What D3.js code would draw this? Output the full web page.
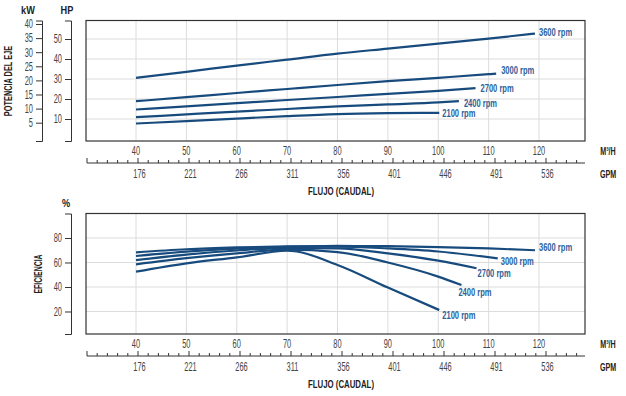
<!DOCTYPE html>
<html>
<head>
<meta charset="utf-8">
<script src="https://cdn.jsdelivr.net/npm/d3@7"></script>
<style>
    body { margin: 0; background: #fff; }
    svg text { font-family: "Liberation Sans", Arial, sans-serif; }
    .tick-label { fill: #444; font-size: 12px; }
    .title { font-weight: bold; fill: #222; font-size: 11.5px; }
    .rpm { font-weight: bold; fill: #2d5f9a; font-size: 10.5px; }
    .grid { stroke: #dcdcdc; stroke-width: 1; }
    .frame { fill: none; stroke: #333; stroke-width: 1.2; }
    .curve { fill: none; stroke: #184b7d; stroke-width: 2.2; }
</style>
</head>
<body>
<svg id="chart" width="626" height="396"></svg>
<script>
const flow_ticks = [40, 50, 60, 70, 80, 90, 100, 110, 120];
const gpm_ticks = [176, 221, 266, 311, 356, 401, 446, 491, 536];
const kw_ticks = [5, 10, 15, 20, 25, 30, 35, 40];
const hp_ticks = [10, 20, 30, 40, 50];
const eff_ticks = [20, 40, 60, 80];
const rpm_labels = ["3600 rpm", "3000 rpm", "2700 rpm", "2400 rpm", "2100 rpm"];

// shaft power, [m3/h, HP]
const power_3600 = [[40, 30.6], [50, 33.6], [60, 36.7], [70, 39.7], [80, 42.7], [90, 45.2], [100, 47.7], [110, 50.2], [119.2, 52.7]];
const power_3000 = [[40, 18.9], [50, 20.9], [60, 23], [70, 25], [80, 27], [90, 28.9], [100, 30.6], [110, 32.4], [111.5, 32.7]];
const power_2700 = [[40, 14.75], [50, 16.3], [60, 17.9], [70, 19.5], [80, 21], [90, 22.6], [100, 24.1], [107.4, 25.4]];
const power_2400 = [[40, 10.9], [50, 12.3], [60, 13.7], [70, 15], [80, 16.3], [90, 17.3], [100, 18.3], [104.1, 18.9]];
const power_2100 = [[40, 7.75], [50, 8.95], [60, 10.2], [70, 11.4], [80, 12.4], [90, 12.9], [100.2, 13.1]];

// efficiency, [m3/h, %]
const eff_3600 = [[40, 68.3], [50, 70.8], [60, 72.3], [70, 73.2], [80, 73.5], [90, 73.3], [100, 72.6], [110, 71.5], [119.2, 70]];
const eff_3000 = [[40, 65.3], [50, 68.8], [60, 71.3], [70, 72.7], [80, 73], [90, 71.5], [100, 69], [111.8, 63.4]];
const eff_2700 = [[40, 62], [50, 66.5], [60, 69.8], [70, 71.8], [80, 71.5], [90, 67.5], [100, 61.5], [107.6, 55.3]];
const eff_2400 = [[40, 58.5], [50, 63.5], [60, 67.5], [70, 70.5], [80, 68.5], [90, 60], [100, 48.5], [104.6, 41.6]];
const eff_2100 = [[40, 52.5], [50, 59.3], [60, 64.2], [70, 69.6], [80, 58], [90, 39.5], [100.2, 21.2]];

let svg = d3.select("#chart");
let frame = { left: 86, right: 585 };
let narrow = 0.62; // squeeze the sans font to look like the condensed original

let x = d3.scaleLinear().domain([40, 120]).range([136, 539]);
let gpm = d3.scaleLinear().domain([176, 536]).range([137.5, 545.5]);
let kw = d3.scaleLinear().domain([-1.49, 41.24]).range([141, 20.5]);
let hp = d3.scaleLinear().domain([-1, 59.25]).range([141, 20.5]);
let eff = d3.scaleLinear().domain([1.63, 100]).range([334, 213.5]);

function add_text(px, py, txt, cls, anchor, rotate, sx) {
    svg.append("text")
        .attr("class", cls)
        .attr("transform", `translate(${px},${py}) rotate(${rotate || 0}) scale(${sx || narrow},1)`)
        .attr("dy", "0.35em")
        .attr("text-anchor", anchor || "middle")
        .text(txt);
}

function draw_panel(y, grid_ticks) {
    let top = y.range()[1], bottom = y.range()[0];
    let g = svg.append("g");
    g.selectAll(".vgrid")
        .data(flow_ticks).enter()
        .append("line")
        .attr("class", "grid")
        .attr("x1", d => x(d)).attr("x2", d => x(d))
        .attr("y1", top).attr("y2", bottom);
    g.selectAll(".hgrid")
        .data(grid_ticks).enter()
        .append("line")
        .attr("class", "grid")
        .attr("x1", frame.left).attr("x2", frame.right)
        .attr("y1", d => y(d)).attr("y2", d => y(d));
    g.append("rect")
        .attr("class", "frame")
        .attr("x", frame.left).attr("y", top)
        .attr("width", frame.right - frame.left)
        .attr("height", bottom - top);
}

function draw_y_axis(y, ticks, xpos) {
    let axis = d3.axisLeft(y).tickValues(ticks).tickSize(6).tickSizeOuter(6).tickPadding(3);
    let g = svg.append("g")
        .attr("transform", `translate(${xpos},0)`)
        .call(axis);
    g.select(".domain").attr("stroke", "#333");
    g.selectAll(".tick line").attr("stroke", "#333");
    g.selectAll(".tick text")
        .attr("class", "tick-label")
        .attr("font-family", null).attr("font-size", null)
        .attr("x", 0)
        .attr("transform", `translate(-9,0) scale(${narrow},1)`);
}

function draw_flow_axis(bottom) {
    let line_y = bottom + 22;
    // m3/h labels
    svg.append("g").selectAll("text")
        .data(flow_ticks).enter()
        .append("text")
        .attr("class", "tick-label")
        .attr("transform", d => `translate(${x(d)},${bottom + 10}) scale(${narrow},1)`)
        .attr("dy", "0.35em")
        .attr("text-anchor", "middle")
        .text(d => d);

    // GPM ruler
    let ruler = d3.axisTop(gpm)
        .tickValues(d3.range(131, 572, 9))
        .tickSize(3).tickSizeOuter(0)
        .tickFormat("");
    let g = svg.append("g")
        .attr("transform", `translate(0,${line_y})`)
        .call(ruler);
    g.select(".domain").attr("d", `M${frame.left + 1},0H${frame.right}`).attr("stroke", "#333");
    g.selectAll(".tick line")
        .attr("stroke", "#333")
        .attr("y2", d => (d - 176) % 45 === 0 ? -5 : -3);

    svg.append("g").selectAll("text")
        .data(gpm_ticks).enter()
        .append("text")
        .attr("class", "tick-label")
        .attr("transform", d => `translate(${gpm(d) + 2},${line_y + 11}) scale(${narrow},1)`)
        .attr("dy", "0.35em")
        .attr("text-anchor", "middle")
        .text(d => d);

    add_text(608, bottom + 10, "M³/H", "title");
    add_text(608, line_y + 11, "GPM", "title");
    add_text(341, bottom + 50, "FLUJO (CAUDAL)", "title", "middle", 0, 0.68);
}

function draw_curves(series, y, offset) {
    let line = d3.line()
        .x(d => x(d[0]))
        .y(d => y(d[1]))
        .curve(d3.curveMonotoneX);
    let g = svg.append("g");
    g.selectAll("path")
        .data(series).enter()
        .append("path")
        .attr("class", "curve")
        .attr("d", line);
    g.selectAll("text")
        .data(series).enter()
        .append("text")
        .attr("class", "rpm")
        .attr("transform", (d, i) => {
            let last = d[d.length - 1];
            return `translate(${x(last[0]) + offset(i)[0]},${y(last[1]) + offset(i)[1]}) scale(0.72,1)`;
        })
        .attr("dy", "0.35em")
        .text((d, i) => rpm_labels[i]);
}

// power panel
draw_panel(hp, hp_ticks);
draw_curves([power_3600, power_3000, power_2700, power_2400, power_2100], hp,
    i => [[4, -1], [5, -3], [5, 0], [5, 2], [3, 1]][i]);
draw_y_axis(kw, kw_ticks, 42);
draw_y_axis(hp, hp_ticks, 71);
draw_flow_axis(141);

add_text(28, 10, "kW", "title", "middle", 0, 0.8);
add_text(67, 10, "HP", "title", "middle", 0, 0.8);
add_text(8, 81, "POTENCIA DEL EJE", "title", "middle", -90, 0.64);

// efficiency panel
draw_panel(eff, eff_ticks);
draw_curves([eff_3600, eff_3000, eff_2700, eff_2400, eff_2100], eff,
    i => [[4, -3], [3, 3], [1, 5], [-3, 7], [3, 5]][i]);
draw_y_axis(eff, eff_ticks, 71);
draw_flow_axis(334);

add_text(66, 203, "%", "title", "middle", 0, 0.8);
add_text(38, 274, "EFICIENCIA", "title", "middle", -90, 0.6);
</script>
</body>
</html>
